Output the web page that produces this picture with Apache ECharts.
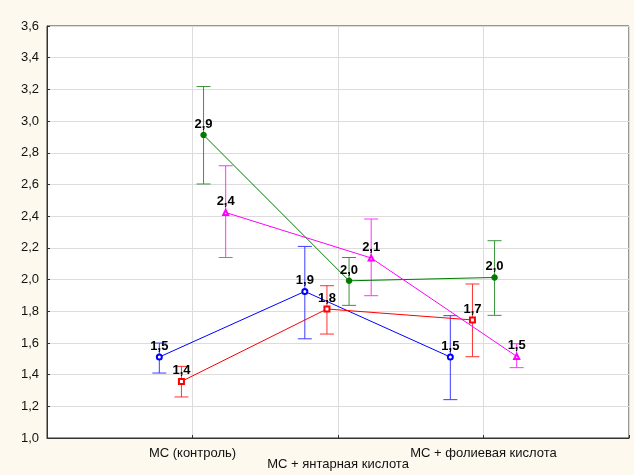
<!DOCTYPE html>
<html>
<head>
<meta charset="utf-8">
<script src="https://cdn.jsdelivr.net/npm/echarts@6/dist/echarts.min.js"></script>
<style>
html,body{margin:0;padding:0;background:#fdf9ee;}
#c{width:634px;height:475px;}
</style>
</head>
<body>
<div id="c"></div>
<script>
var categories = ['МС (контроль)', 'МС + янтарная кислота', 'МС + фолиевая кислота'];
var yTicks = [1.0, 1.2, 1.4, 1.6, 1.8, 2.0, 2.2, 2.4, 2.6, 2.8, 3.0, 3.2, 3.4, 3.6];

var blueMean = [1.511, 1.925, 1.511];
var blueLow  = [1.410, 1.626, 1.242];
var blueHigh = [1.599, 2.209, 1.772];

var redMean = [1.357, 1.814, 1.745];
var redLow  = [1.259, 1.656, 1.513];
var redHigh = [1.452, 1.961, 1.972];

var greenMean = [2.912, 1.992, 2.013];
var greenLow  = [2.603, 1.837, 1.774];
var greenHigh = [3.218, 2.139, 2.245];

var magentaMean = [2.423, 2.136, 1.515];
var magentaLow  = [2.139, 1.898, 1.444];
var magentaHigh = [2.718, 2.382, 1.595];

var groups = [
  {mean: blueMean, low: blueLow, high: blueHigh, line: '#0000ff', err: '#3c3cff', symbol: 'emptyCircle', size: 5},
  {mean: redMean, low: redLow, high: redHigh, line: '#ff0000', err: '#ff3030', symbol: 'emptyRect', size: 5},
  {mean: greenMean, low: greenLow, high: greenHigh, line: '#007a00', err: '#3a943a', symbol: 'circle', size: 5},
  {mean: magentaMean, low: magentaLow, high: magentaHigh, line: '#ff00ff', err: '#ff33ff', symbol: 'emptyTriangle', size: 5}
];
var step = 0.152;
var FONT = 'Liberation Sans, Arial, sans-serif';

var fmt = function (v) { return v.toFixed(1).replace('.', ','); };

var series = [];
groups.forEach(function (g, gi) {
  var off = (gi - 1.5) * step;
  var errData = g.mean.map(function (m, i) { return [i + 1 + off, g.low[i], g.high[i]]; });
  series.push({
    type: 'custom',
    silent: true,
    z: 2,
    renderItem: function (params, api) {
      var x = api.value(0);
      var lo = api.coord([x, api.value(1)]);
      var hi = api.coord([x, api.value(2)]);
      var w = 7;
      var st = {stroke: g.err, lineWidth: 1};
      return {
        type: 'group',
        children: [
          {type: 'line', shape: {x1: lo[0], y1: lo[1], x2: hi[0], y2: hi[1]}, style: st},
          {type: 'line', shape: {x1: lo[0] - w, y1: lo[1], x2: lo[0] + w, y2: lo[1]}, style: st},
          {type: 'line', shape: {x1: hi[0] - w, y1: hi[1], x2: hi[0] + w, y2: hi[1]}, style: st}
        ]
      };
    },
    encode: {x: 0, y: [1, 2]},
    data: errData
  });
  series.push({
    type: 'line',
    z: 3,
    data: g.mean.map(function (m, i) { return [i + 1 + off, m]; }),
    symbol: g.symbol,
    symbolSize: g.size,
    lineStyle: {color: g.line, width: 1},
    itemStyle: {color: g.line, borderColor: g.line, borderWidth: 1.5},
    label: {
      show: true,
      position: 'top',
      distance: 1,
      color: '#000',
      fontWeight: 'bold',
      fontSize: 13,
      fontFamily: FONT,
      formatter: function (p) { return fmt(p.value[1]); }
    },
    animation: false
  });
});

var chart = echarts.init(document.getElementById('c'));
chart.setOption({
  backgroundColor: '#fdf9ee',
  animation: false,
  grid: {left: 47, right: 5, top: 26, bottom: 37, show: true, backgroundColor: '#ffffff', borderColor: '#333', borderWidth: 1},
  xAxis: {
    type: 'value', min: 0, max: 4, interval: 1,
    axisLine: {show: true, onZero: false, lineStyle: {color: '#333', width: 1}},
    axisTick: {show: true, inside: true, length: 3, lineStyle: {color: '#333'}},
    splitLine: {show: true, lineStyle: {color: '#dcdcdc', width: 1}},
    axisLabel: {
      margin: 8,
      showMinLabel: true, showMaxLabel: true,
      formatter: function (v) {
        if (v === 2) return '{b|' + categories[1] + '}';
        if (v === 1 || v === 3) return '{a|' + categories[v - 1] + '}';
        return '';
      },
      rich: {
        a: {fontSize: 13, color: '#111', fontFamily: FONT, lineHeight: 15},
        b: {fontSize: 13, color: '#111', fontFamily: FONT, lineHeight: 15, padding: [21, 0, 0, 0]}
      }
    }
  },
  yAxis: {
    type: 'value', min: yTicks[0], max: yTicks[yTicks.length - 1], interval: 0.2,
    axisLine: {show: true, onZero: false, lineStyle: {color: '#333', width: 1}},
    axisTick: {show: true, inside: true, length: 3, lineStyle: {color: '#333'}},
    splitLine: {show: true, lineStyle: {color: '#dcdcdc', width: 1}},
    axisLabel: {
      margin: 8, fontSize: 13, color: '#111', fontFamily: FONT,
      formatter: function (v) { return fmt(v); }
    }
  },
  series: series
});
</script>
</body>
</html>
